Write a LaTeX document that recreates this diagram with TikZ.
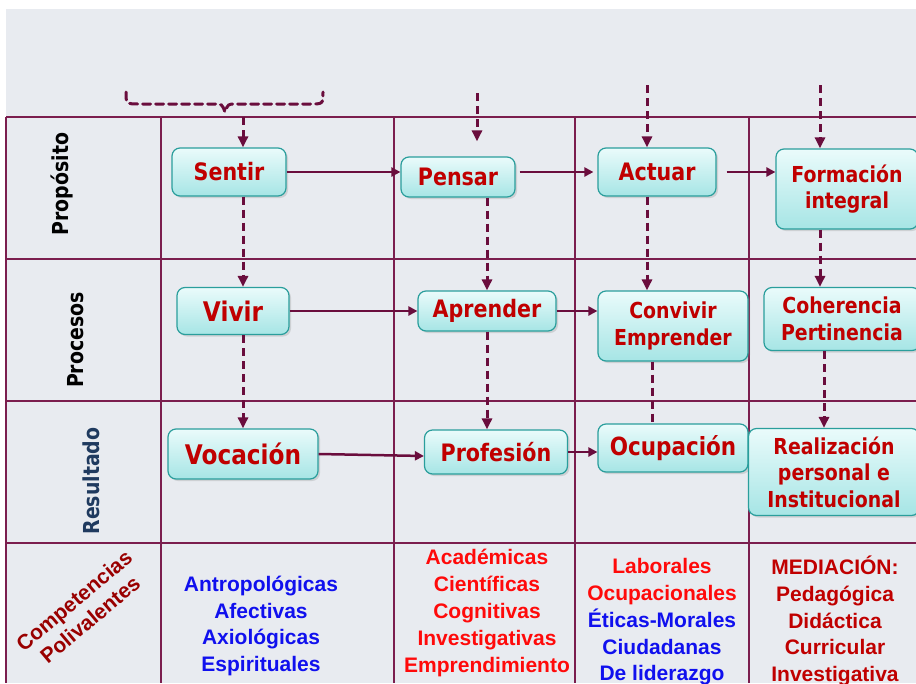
\documentclass[tikz,border=0pt]{standalone}
\usepackage{fontspec}
\setmainfont{Liberation Sans}
\newfontfamily\boxfont[FakeStretch=0.86]{DejaVu Sans}
\usetikzlibrary{arrows.meta,shadows}

\definecolor{wine}{HTML}{6A0D3D}
\definecolor{gridc}{HTML}{7B1E4E}
\definecolor{paper}{HTML}{E8EBF0}
\definecolor{boxtop}{HTML}{EAFBFB}
\definecolor{boxbot}{HTML}{A6E5E5}
\definecolor{boxline}{HTML}{2A9E9C}
\definecolor{boxtext}{HTML}{C00000}
\definecolor{navy}{HTML}{1F3A5F}
\definecolor{darkred}{HTML}{990000}
\definecolor{skillblue}{HTML}{1010EE}
\definecolor{skillred}{HTML}{FF0A0A}

\tikzset{
  grid/.style={gridc, line width=1.5pt},
  box/.style={draw=boxline, line width=1.2pt, rounded corners=8pt,
    top color=boxtop, bottom color=boxbot,
    drop shadow={opacity=0.25, shadow xshift=2pt, shadow yshift=-2pt},
    text=boxtext, align=center, inner sep=0pt,
    font=\boxfont\bfseries\fontsize{24}{26}\selectfont},
  twoline/.style={font=\boxfont\bfseries\fontsize{22}{26.5}\selectfont},
  flow/.style={wine, line width=2.5pt, -{Triangle[length=9pt,width=9pt]}},
  feed/.style={wine, line width=3pt, dash pattern=on 8pt off 5pt,
    -{Triangle[length=11pt,width=10pt]}},
  rowlabel/.style={rotate=90, font=\boxfont\bfseries\fontsize{22}{22}\selectfont},
  skills/.style={align=center, font=\bfseries\fontsize{21}{26.8}\selectfont}
}

\begin{document}
\begin{tikzpicture}[x=1pt,y=-1pt]
\useasboundingbox (0,0) rectangle (916,683);
\fill[white] (0,0) rectangle (916,683);
\fill[paper] (6,9) rectangle (916,683);

\foreach \y in {117,259,401,543}
  \draw[grid] (6,\y) -- (916,\y);
\foreach \x in {6,161,394,575,749}
  \draw[grid] (\x,117) -- (\x,683);

\node[rowlabel] (proposito) at (62,184) {Propósito};
\node[rowlabel] (procesos) at (76,340) {Procesos};
\node[rowlabel, text=navy] (resultado) at (91,481) {Resultado};
\node[rotate=40, text=darkred, align=center, font=\bfseries\fontsize{21}{25}\selectfont]
  (competencias) at (82,610) {Competencias\\Polivalentes};

\node[box, minimum width=114pt, minimum height=48pt] (sentir) at (229,172) {Sentir};
\node[box, minimum width=114pt, minimum height=40pt] (pensar) at (458,177) {Pensar};
\node[box, minimum width=118pt, minimum height=48pt] (actuar) at (657,172) {Actuar};
\node[box, twoline, minimum width=142pt, minimum height=80pt] (formacion) at (847,189) {Formación\\integral};

\node[box, minimum width=112pt, minimum height=47pt, font=\boxfont\bfseries\fontsize{27}{27}\selectfont]
  (vivir) at (233,311) {Vivir};
\node[box, minimum width=138pt, minimum height=40pt] (aprender) at (487,311) {Aprender};
\node[box, twoline, minimum width=150pt, minimum height=70pt] (convivir) at (673,326) {Convivir\\Emprender};
\node[box, twoline, minimum width=156pt, minimum height=63pt] (coherencia) at (842,319) {Coherencia\\Pertinencia};

\node[box, minimum width=150pt, minimum height=50pt, font=\boxfont\bfseries\fontsize{27}{27}\selectfont]
  (vocacion) at (243,454) {Vocación};
\node[box, minimum width=143pt, minimum height=44pt] (profesion) at (496,452) {Profesión};
\node[box, minimum width=150pt, minimum height=48pt, font=\boxfont\bfseries\fontsize{25}{25}\selectfont]
  (ocupacion) at (673,448) {Ocupación};
\node[box, twoline, minimum width=171pt, minimum height=87pt] (realizacion) at (834,472) {Realización\\personal e\\Institucional};

\draw[wine, line width=3pt, line cap=round, dash pattern=on 8pt off 5pt]
  (126,92) .. controls (126,104) .. (140,104) -- (214,104)
  .. controls (222,104) .. (225,112) .. controls (228,104) .. (236,104)
  -- (310,104) .. controls (323,104) .. (323,92);

\coordinate (inS) at (243,117);
\coordinate (inP) at (477,93);
\coordinate (inA) at (647,85);
\coordinate (inF) at (820,85);

\draw[feed] (inS) -- (inS |- sentir.north);
\draw[feed, shorten >=15pt] (inP) -- (inP |- pensar.north);
\draw[feed] (inA) -- (inA |- actuar.north);
\draw[feed] (inF) -- (inF |- formacion.north);

\draw[feed] (sentir.south -| inS) -- (vivir.north -| inS);
\draw[feed] (vivir.south -| inS) -- (vocacion.north -| inS);
\draw[feed] (pensar.south -| aprender.north) -- (aprender.north);
\draw[feed] (aprender.south) -- (aprender.south |- profesion.north);
\draw[feed] (actuar.south -| inA) -- (convivir.north -| inA);
\draw[feed, -] ([xshift=5pt]convivir.south -| inA) -- ([xshift=5pt]ocupacion.north -| inA);
\draw[feed] (formacion.south -| inF) -- (coherencia.north -| inF);
\draw[feed] ([xshift=4pt]coherencia.south -| inF) -- ([xshift=4pt]realizacion.north -| inF);

\draw[flow] (sentir.east) -- (sentir.east -| pensar.west);
\draw[flow, shorten <=4pt, shorten >=4pt] (actuar.west -| pensar.east) -- (actuar.west);
\draw[flow, shorten <=10pt] (actuar.east) -- (actuar.east -| formacion.west);
\draw[flow] (vivir.east) -- (vivir.east -| aprender.west);
\draw[flow] (aprender.east) -- (aprender.east -| convivir.west);
\draw[flow] (vocacion.east) -- ([yshift=-4pt]profesion.west);
\draw[flow] (profesion.east) -- (profesion.east -| ocupacion.west);

\node[skills, text=skillblue] (humanas) at (261,626)
  {Antropológicas\\Afectivas\\Axiológicas\\Espirituales};
\node[skills, text=skillred] (academicas) at (487,613)
  {Académicas\\Científicas\\Cognitivas\\Investigativas\\Emprendimiento};
\node[skills, text=skillblue] (laborales) at (662,622)
  {\textcolor{skillred}{Laborales}\\\textcolor{skillred}{Ocupacionales}\\Éticas-Morales\\Ciudadanas\\De liderazgo};
\node[skills, text=boxtext] (mediacion) at (835,621)
  {MEDIACIÓN:\\Pedagógica\\Didáctica\\Curricular\\Investigativa};
\end{tikzpicture}
\end{document}
